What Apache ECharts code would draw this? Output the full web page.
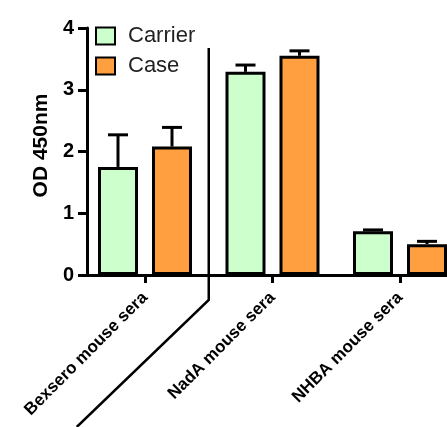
<!DOCTYPE html>
<html><head><meta charset="utf-8">
<script src="https://cdn.jsdelivr.net/npm/echarts@6/dist/echarts.min.js"></script>
<style>html,body{margin:0;padding:0;background:#fff}#c{width:447px;height:427px}</style>
</head><body><div id="c"></div>
<script>
const categories = ['Bexsero mouse sera', 'NadA mouse sera', 'NHBA mouse sera'];
const carrier = [1.75, 3.29, 0.71];
const carrierErr = [0.52, 0.11, 0.02];
const caseVals = [2.08, 3.55, 0.50];
const caseErr = [0.31, 0.08, 0.045];
const yTicks = [0, 1, 2, 3, 4];

const FONT = '"Liberation Sans", Arial, sans-serif';
const BAR_W = 40, GAP = 14;
const chart = echarts.init(document.getElementById('c'), null, {renderer: 'canvas'});

function errRender(vals, errs, side) {
  return function (params, api) {
    const i = api.value(0);
    const base = api.coord([i, vals[i]]);
    const top = api.coord([i, vals[i] + errs[i]]);
    const x = base[0] + side * (BAR_W + GAP) / 2;
    const style = {stroke: '#000', lineWidth: 3};
    return {type: 'group', children: [
      {type: 'line', shape: {x1: x, y1: base[1], x2: x, y2: top[1]}, style: style},
      {type: 'line', shape: {x1: x - 10, y1: top[1], x2: x + 10, y2: top[1]}, style: style}
    ]};
  };
}

const option = {
  animation: false,
  backgroundColor: '#fff',
  textStyle: {fontFamily: FONT},
  grid: [
    {left: 87, right: 0, top: 28, bottom: 152, outerBoundsMode: 'none'},
    {left: 81.25, width: 382.5, top: 28, bottom: 152, outerBoundsMode: 'none'}
  ],
  legend: {
    orient: 'vertical', left: 95, top: 25, padding: 0, itemWidth: 19, itemHeight: 17, itemGap: 8,
    icon: 'rect',
    formatter: function (name) { return '{g|}' + name; },
    textStyle: {fontFamily: FONT, fontSize: 22, color: '#222',
      rich: {g: {width: 8}}},
    data: ['Carrier', 'Case']
  },
  xAxis: [
    {gridIndex: 0, type: 'value', show: false, min: 0, max: 1},
    {gridIndex: 1, type: 'category', data: categories,
      axisLine: {show: true, lineStyle: {color: '#000', width: 3}},
      axisTick: {show: true, alignWithLabel: true, length: 8, lineStyle: {color: '#000', width: 3}},
      axisLabel: {rotate: 45, margin: 20, fontFamily: FONT, fontWeight: 'bold', fontSize: 17, color: '#000'},
      splitLine: {show: false}}
  ],
  yAxis: [
    {gridIndex: 0, type: 'value', min: yTicks[0], max: yTicks[yTicks.length - 1], interval: 1,
      name: 'OD 450nm', nameLocation: 'middle', nameGap: 33, nameRotate: 90,
      nameTextStyle: {fontFamily: FONT, fontWeight: 'bold', fontSize: 21, color: '#000', padding: [0, 0, 0, 12]},
      axisLine: {show: true, lineStyle: {color: '#000', width: 3}},
      axisTick: {show: true, length: 9, lineStyle: {color: '#000', width: 3}},
      axisLabel: {margin: 13, fontFamily: FONT, fontWeight: 'bold', fontSize: 20, color: '#000'},
      splitLine: {show: false}},
    {gridIndex: 1, type: 'value', min: yTicks[0], max: yTicks[yTicks.length - 1], interval: 1, show: false}
  ],
  series: [
    {name: 'Carrier', type: 'bar', xAxisIndex: 1, yAxisIndex: 1, data: carrier,
      barWidth: BAR_W, barGap: (GAP / BAR_W * 100) + '%',
      itemStyle: {color: '#CCFFCC', borderColor: '#000', borderWidth: 3}},
    {name: 'Case', type: 'bar', xAxisIndex: 1, yAxisIndex: 1, data: caseVals,
      barWidth: BAR_W, barGap: (GAP / BAR_W * 100) + '%',
      itemStyle: {color: '#FF9F40', borderColor: '#000', borderWidth: 3}},
    {type: 'custom', xAxisIndex: 1, yAxisIndex: 1, z: 5, silent: true,
      data: categories.map((c, i) => [i]), renderItem: errRender(carrier, carrierErr, -1)},
    {type: 'custom', xAxisIndex: 1, yAxisIndex: 1, z: 5, silent: true,
      data: categories.map((c, i) => [i]), renderItem: errRender(caseVals, caseErr, 1)}
  ]
};
chart.setOption(option);

// decorative separator line at the boundary between first and second category
const p0 = chart.convertToPixel({xAxisIndex: 1}, 0);
const p1 = chart.convertToPixel({xAxisIndex: 1}, 1);
const sx = (p0 + p1) / 2;
chart.setOption({graphic: [{type: 'polyline', z: 10, silent: true,
  shape: {points: [[sx, 48], [sx, 300], [sx - 132, 427]]},
  style: {stroke: '#000', lineWidth: 2.5, fill: null}}]});
</script>
</body></html>
